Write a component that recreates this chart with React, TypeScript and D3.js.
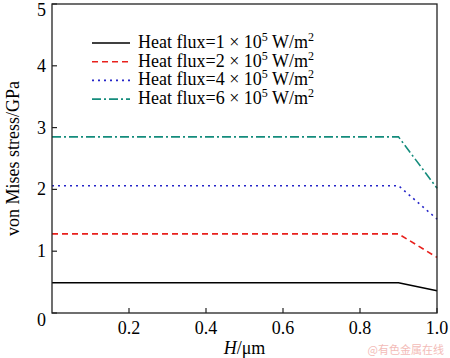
import React from "react";
import * as d3 from "d3";

const hValues = [0, 0.9, 1.0];
const flux1 = [0.49, 0.49, 0.36];
const flux2 = [1.28, 1.28, 0.9];
const flux4 = [2.06, 2.06, 1.52];
const flux6 = [2.85, 2.85, 2.02];
const xTicks = [0.2, 0.4, 0.6, 0.8, 1.0];
const yTicks = [0, 1, 2, 3, 4, 5];
const fluxLabels = ["1", "2", "4", "6"];

const series = [
  { values: flux1, color: "#000000", dash: "none", label: fluxLabels[0] },
  { values: flux2, color: "#e8201c", dash: "6,4", label: fluxLabels[1] },
  { values: flux4, color: "#2424c8", dash: "2,4", label: fluxLabels[2] },
  { values: flux6, color: "#148c7c", dash: "9,3,2,3", label: fluxLabels[3] },
];

const App = () => {
  const width = 450;
  const height = 358;
  const margin = { top: 4, right: 13, bottom: 45, left: 52 };

  const x = d3.scaleLinear().domain([0, 1]).range([margin.left, width - margin.right]);
  const y = d3.scaleLinear().domain([0, 5]).range([height - margin.bottom, margin.top]);

  const line = d3
    .line<number>()
    .x((d, i) => x(hValues[i]))
    .y((d) => y(d));

  const font = "'Liberation Serif', 'Times New Roman', serif";

  return (
    <svg width={width} height={height} style={{ position: "absolute", left: 0, top: 0 }} fontFamily={font}>
      <rect x={0} y={0} width={width} height={height} fill="#fff" />

      {series.map((s, i) => (
        <path
          key={i}
          d={line(s.values) || ""}
          fill="none"
          stroke={s.color}
          strokeWidth={1.6}
          strokeDasharray={s.dash}
        />
      ))}

      <rect
        x={x(0)}
        y={y(5)}
        width={x(1) - x(0)}
        height={y(0) - y(5)}
        fill="none"
        stroke="#222"
        strokeWidth={1.3}
      />

      {xTicks.map((t) => (
        <g key={t}>
          <line x1={x(t)} x2={x(t)} y1={y(0)} y2={y(0) - 5} stroke="#222" strokeWidth={1.2} />
          <text x={x(t)} y={y(0) + 21} textAnchor="middle" fontSize={18}>
            {t.toFixed(1)}
          </text>
        </g>
      ))}

      {yTicks.map((t) => (
        <g key={t}>
          <line x1={x(0)} x2={x(0) + 5} y1={y(t)} y2={y(t)} stroke="#222" strokeWidth={1.2} />
          <text x={46} y={t === 5 ? 16 : y(t) + (t === 0 ? 13 : 6)} textAnchor="end" fontSize={18}>
            {t}
          </text>
        </g>
      ))}

      <text
        transform={`translate(19, ${(y(0) + y(5)) / 2}) rotate(-90)`}
        textAnchor="middle"
        fontSize={18}
      >
        von Mises stress/GPa
      </text>

      <text x={x(0.5)} y={354} textAnchor="middle" fontSize={18}>
        <tspan fontStyle="italic">H</tspan>/μm
      </text>

      {series.map((s, i) => {
        const ly = 43 + i * 18.7;
        return (
          <g key={"lg" + i}>
            <line x1={92} x2={130} y1={ly} y2={ly} stroke={s.color} strokeWidth={1.6} strokeDasharray={s.dash} />
            <text x={138} y={ly + 5} fontSize={18}>
              Heat flux={s.label} × 10
              <tspan fontSize={12} dy={-7}>5</tspan>
              <tspan dy={7}> W/m</tspan>
              <tspan fontSize={12} dy={-7}>2</tspan>
            </text>
          </g>
        );
      })}

      <text x={444} y={354} textAnchor="end" fontSize={11} fill="#f3bcb8" fontFamily="'Noto Sans CJK SC', sans-serif">
        @有色金属在线
      </text>
    </svg>
  );
};

export default App;
